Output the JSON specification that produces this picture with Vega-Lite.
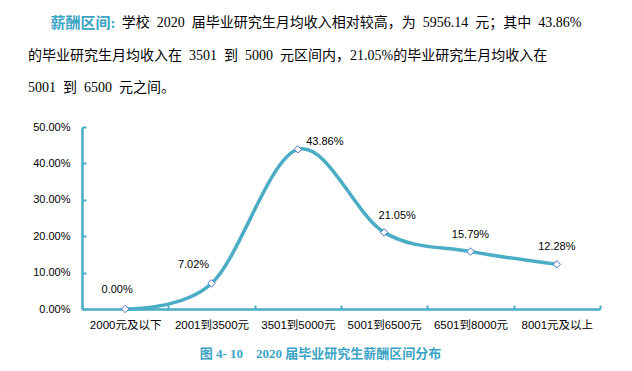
{
  "$schema": "https://vega.github.io/schema/vega-lite/v6.json",
  "width": 518,
  "height": 182,
  "autosize": {"type": "none"},
  "padding": {"left": 82, "top": 127, "right": 32, "bottom": 62},
  "background": "white",
  "title": {
    "text": "\u200B\u2002\u2002\u2002薪酬区间:",
    "subtitle": [
      "\u200B　　　　　　\u2002\u2009学校\u20022020\u2002届毕业研究生月均收入相对较高，为\u20025956.14\u2002元；其中\u200243.86%",
      "的毕业研究生月均收入在\u20023501\u2002到\u20025000\u2002元区间内，21.05%的毕业研究生月均收入在",
      "5001\u2002到\u20026500\u2002元之间。"
    ],
    "anchor": "start",
    "frame": "group",
    "orient": "top",
    "dx": -54,
    "offset": 26,
    "font": "Liberation Serif, Noto Sans CJK SC",
    "fontSize": 15,
    "fontWeight": "bold",
    "color": "#3BA3C4",
    "subtitleFont": "Liberation Serif, Noto Sans CJK SC",
    "subtitleFontSize": 14,
    "subtitleColor": "#000000",
    "subtitleLineHeight": 32.5,
    "subtitlePadding": -15
  },
  "data": {
    "values": [
      {"range": "2000元及以下", "pct": 0.0},
      {"range": "2001到3500元", "pct": 0.0702},
      {"range": "3501到5000元", "pct": 0.4386},
      {"range": "5001到6500元", "pct": 0.2105},
      {"range": "6501到8000元", "pct": 0.1579},
      {"range": "8001元及以上", "pct": 0.1228}
    ]
  },
  "encoding": {
    "x": {
      "field": "range",
      "type": "nominal",
      "sort": null,
      "bandPosition": 0.5,
      "scale": {"type": "band", "paddingInner": 0, "paddingOuter": 0},
      "axis": {
        "labelAngle": 0,
        "tickBand": "extent",
        "tickSize": -4,
        "labelPadding": 14,
        "labelFontSize": 11.5,
        "title": "图 4- 10　2020 届毕业研究生薪酬区间分布",
        "titleFont": "Liberation Serif, Noto Sans CJK SC",
        "titleFontSize": 13,
        "titleFontWeight": "bold",
        "titleColor": "#3BA3C4",
        "titleX": 238,
        "titleY": 38,
        "titleAlign": "center",
        "titleBaseline": "top"
      }
    },
    "y": {
      "field": "pct",
      "type": "quantitative",
      "scale": {"domain": [0, 0.5]},
      "axis": {
        "format": ".2%",
        "values": [0, 0.1, 0.2, 0.3, 0.4, 0.5],
        "grid": false,
        "title": null,
        "tickSize": -4,
        "labelPadding": 16
      }
    }
  },
  "layer": [
    {"mark": {"type": "line", "interpolate": "cardinal", "color": "#4BACC6", "strokeWidth": 3.5}},
    {"mark": {"type": "point", "shape": "diamond", "filled": true, "fill": "white", "stroke": "#4472C4", "strokeWidth": 1, "size": 55, "opacity": 1}},
    {
      "transform": [{"filter": "datum.pct == 0.1579 || datum.pct == 0.1228"}],
      "mark": {"type": "text", "dy": -17, "font": "Liberation Sans", "fontSize": 11, "color": "#000000"},
      "encoding": {"text": {"field": "pct", "type": "quantitative", "format": ".2%"}}
    },
    {
      "transform": [{"filter": "datum.pct == 0.2105"}],
      "mark": {"type": "text", "dx": 13, "dy": -16, "font": "Liberation Sans", "fontSize": 11, "color": "#000000"},
      "encoding": {"text": {"field": "pct", "type": "quantitative", "format": ".2%"}}
    },
    {
      "transform": [{"filter": "datum.pct == 0"}],
      "mark": {"type": "text", "dx": -8, "dy": -19, "font": "Liberation Sans", "fontSize": 11, "color": "#000000"},
      "encoding": {"text": {"field": "pct", "type": "quantitative", "format": ".2%"}}
    },
    {
      "transform": [{"filter": "datum.pct == 0.0702"}],
      "mark": {"type": "text", "dx": -18, "dy": -18, "font": "Liberation Sans", "fontSize": 11, "color": "#000000"},
      "encoding": {"text": {"field": "pct", "type": "quantitative", "format": ".2%"}}
    },
    {
      "transform": [{"filter": "datum.pct == 0.4386"}],
      "mark": {"type": "text", "dx": 27, "dy": -7, "font": "Liberation Sans", "fontSize": 11, "color": "#000000"},
      "encoding": {"text": {"field": "pct", "type": "quantitative", "format": ".2%"}}
    }
  ],
  "config": {
    "view": {"stroke": null},
    "axis": {
      "domainColor": "#4BACC6",
      "domainWidth": 2.5,
      "tickColor": "#4BACC6",
      "tickWidth": 2,
      "labelColor": "#000000",
      "labelFont": "Liberation Sans, Noto Sans CJK SC",
      "labelFontSize": 11
    }
  }
}
